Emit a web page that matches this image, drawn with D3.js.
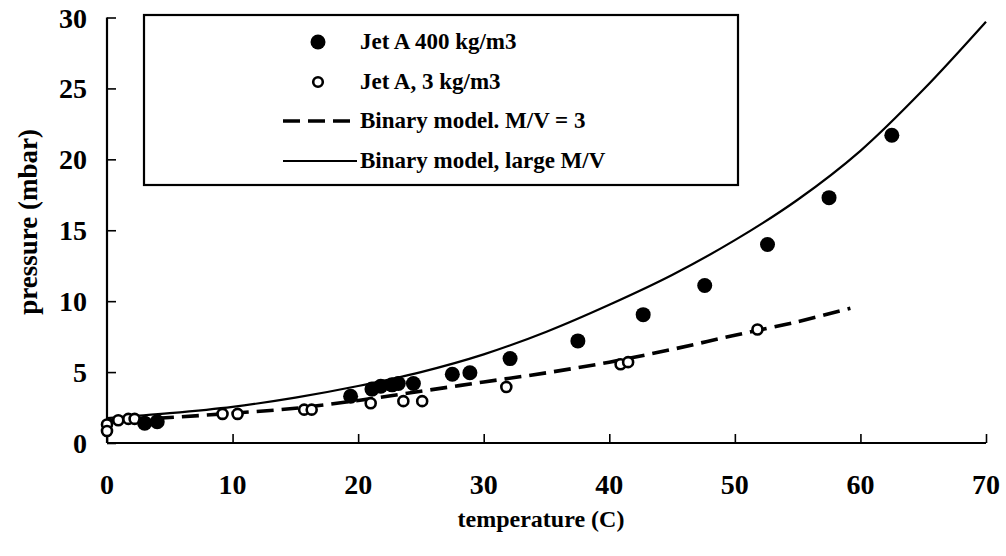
<!DOCTYPE html>
<html>
<head>
<meta charset="utf-8">
<script src="https://cdn.jsdelivr.net/npm/d3@7"></script>
<style>
  html, body { margin: 0; padding: 0; background: #fff; }
  svg { display: block; }
  text { font-family: "Liberation Serif", "Times New Roman", serif; font-weight: bold; fill: #000; }
</style>
</head>
<body>
<svg id="chart" width="1006" height="556"></svg>
<script>
// Measured vapour pressure of Jet A at two mass loadings
const denseT = [3.0, 4.0, 19.4, 21.1, 21.8, 22.7, 23.2, 24.4, 27.5, 28.9, 32.1, 37.5, 42.7, 47.6, 52.6, 57.5, 62.5];
const denseP = [1.4, 1.5, 3.3, 3.8, 4.0, 4.1, 4.2, 4.2, 4.85, 4.95, 5.95, 7.2, 9.05, 11.1, 14.0, 17.3, 21.7];

const sparseT = [0.0, 0.0, 0.9, 1.7, 2.2, 9.2, 10.4, 15.7, 16.3, 21.0, 23.6, 25.1, 31.8, 40.9, 41.5, 51.8];
const sparseP = [1.3, 0.85, 1.6, 1.7, 1.7, 2.05, 2.05, 2.35, 2.35, 2.8, 2.95, 2.95, 3.95, 5.55, 5.7, 8.0];

// Binary model curves
const modelSmallT = [0, 5, 10, 15, 20, 25, 30, 35, 40, 45, 50, 55, 59.2];
const modelSmallP = [1.55, 1.8, 2.1, 2.45, 3.0, 3.65, 4.3, 4.95, 5.7, 6.6, 7.6, 8.55, 9.5];

const modelLargeT = [0, 5, 10, 15, 20, 25, 30, 35, 40, 45, 50, 55, 60, 65, 70];
const modelLargeP = [1.75, 2.1, 2.55, 3.2, 4.02, 5.0, 6.25, 7.85, 9.75, 11.85, 14.3, 17.15, 20.6, 24.9, 29.7];

const xTicks = [0, 10, 20, 30, 40, 50, 60, 70];
const yTicks = [0, 5, 10, 15, 20, 25, 30];

const legendLabels = ["Jet A 400 kg/m3", "Jet A, 3 kg/m3", "Binary model. M/V = 3", "Binary model, large M/V"];

const svg = d3.select("#chart");

const x = d3.scaleLinear().domain([0, 70]).range([107, 986]);
const y = d3.scaleLinear().domain([0, 30]).range([443, 17.5]);

// axes with inward ticks
const xAxis = d3.axisTop(x).tickValues(xTicks).tickSize(9).tickFormat("");
const yAxis = d3.axisRight(y).tickValues(yTicks).tickSize(9).tickFormat("");

const gx = svg.append("g").attr("transform", `translate(0,${y(0)})`).call(xAxis);
const gy = svg.append("g").attr("transform", `translate(${x(0)},0)`).call(yAxis);
[gx, gy].forEach(g => {
  g.select(".domain").attr("stroke", "#000").attr("stroke-width", 2.2);
  g.selectAll(".tick line").attr("stroke", "#000").attr("stroke-width", 1.6);
});
gx.select(".domain").attr("d", `M${x(0)},0H${x(70)}`);
gy.select(".domain").attr("d", `M0,${y(30)}V${y(0)}`);

// tick labels
svg.append("g").selectAll("text").data(xTicks).join("text")
  .attr("x", d => x(d)).attr("y", 494)
  .attr("text-anchor", "middle").attr("font-size", 28)
  .text(d => d);
svg.append("g").selectAll("text").data(yTicks).join("text")
  .attr("x", 87).attr("y", d => y(d) + 10)
  .attr("text-anchor", "end").attr("font-size", 28)
  .text(d => d);

// axis titles
svg.append("text").attr("x", 541).attr("y", 527).attr("text-anchor", "middle")
  .attr("font-size", 24).text("temperature (C)");
svg.append("text").attr("transform", "translate(37,222) rotate(-90)")
  .attr("text-anchor", "middle").attr("font-size", 27).text("pressure (mbar)");

// model curves
const line = d3.line().x(d => x(d[0])).y(d => y(d[1])).curve(d3.curveCatmullRom);
svg.append("path").datum(d3.zip(modelLargeT, modelLargeP))
  .attr("d", line).attr("fill", "none").attr("stroke", "#000").attr("stroke-width", 2.2);
svg.append("path").datum(d3.zip(modelSmallT, modelSmallP))
  .attr("d", line).attr("fill", "none").attr("stroke", "#000").attr("stroke-width", 3.6)
  .attr("stroke-dasharray", "17,8");

// measured points
svg.append("g").selectAll("circle").data(d3.zip(sparseT, sparseP)).join("circle")
  .attr("cx", d => x(d[0])).attr("cy", d => y(d[1])).attr("r", 5)
  .attr("fill", "#fff").attr("stroke", "#000").attr("stroke-width", 2.6);
svg.append("g").selectAll("circle").data(d3.zip(denseT, denseP)).join("circle")
  .attr("cx", d => x(d[0])).attr("cy", d => y(d[1])).attr("r", 7.5)
  .attr("fill", "#000");

// legend
const lg = svg.append("g");
lg.append("rect").attr("x", 144).attr("y", 15).attr("width", 594).attr("height", 170)
  .attr("fill", "#fff").attr("stroke", "#000").attr("stroke-width", 2.2);
const rowY = [42, 82, 121, 161];
lg.append("circle").attr("cx", 318).attr("cy", rowY[0]).attr("r", 7.5).attr("fill", "#000");
lg.append("circle").attr("cx", 318).attr("cy", rowY[1]).attr("r", 4.8)
  .attr("fill", "#fff").attr("stroke", "#000").attr("stroke-width", 2.6);
lg.append("line").attr("x1", 283).attr("x2", 350).attr("y1", rowY[2]).attr("y2", rowY[2])
  .attr("stroke", "#000").attr("stroke-width", 3.6).attr("stroke-dasharray", "17,8");
lg.append("line").attr("x1", 283).attr("x2", 357).attr("y1", rowY[3]).attr("y2", rowY[3])
  .attr("stroke", "#000").attr("stroke-width", 2.2);
lg.selectAll("text.lab").data(legendLabels).join("text").attr("class", "lab")
  .attr("x", 360).attr("y", (d, i) => rowY[i] + 7).attr("font-size", 23)
  .text(d => d);
</script>
</body>
</html>
